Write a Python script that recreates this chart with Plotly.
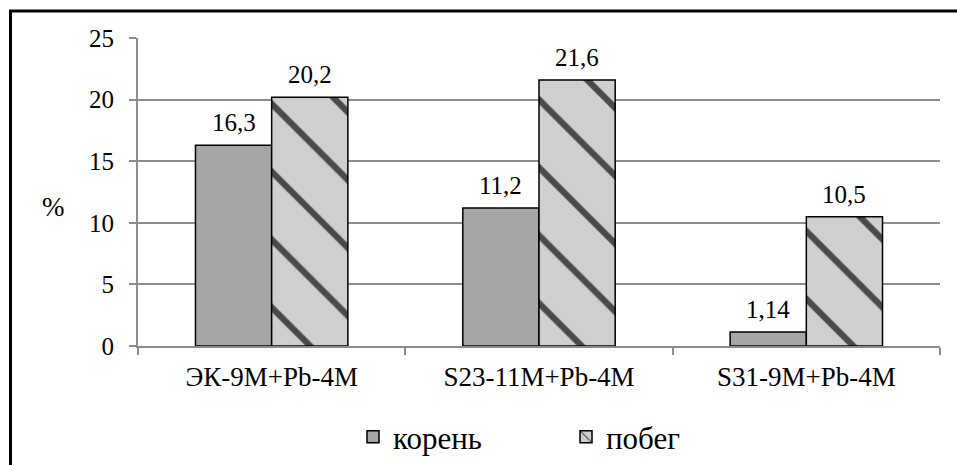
import plotly.graph_objects as go

categories = ["ЭК-9M+Pb-4M", "S23-11M+Pb-4M", "S31-9M+Pb-4M"]
koren = [16.3, 11.2, 1.14]
pobeg = [20.2, 21.6, 10.5]
koren_labels = ["16,3", "11,2", "1,14"]
pobeg_labels = ["20,2", "21,6", "10,5"]
y_ticks = [0, 5, 10, 15, 20, 25]

FONT = "Liberation Serif"
W, H = 957, 465
ML, MR, MT, MB = 138, 17, 37.5, 119
PW = W - ML - MR
PH = H - MT - MB
BARGAP = 0.43
BAR_W = (1 - BARGAP) / 2  # width of one bar in category units

fig = go.Figure()
fig.add_trace(go.Bar(
    name="корень", x=categories, y=koren,
    marker=dict(color="#a6a6a6", line=dict(color="black", width=1.5)),
))
fig.add_trace(go.Bar(
    name="побег", x=categories, y=pobeg,
    marker=dict(color="#cccccc", line=dict(color="black", width=1.5),
                pattern=dict(shape="\\", fgcolor="#4a4a4a", bgcolor="#cfcfcf",
                             size=48, solidity=0.13, fillmode="replace")),
))

# data labels above bars (placed at bar centres via the category axis)
for i, (v, lab) in enumerate(zip(koren, koren_labels)):
    fig.add_annotation(x=i - BAR_W / 2, y=v, text=lab, showarrow=False,
                       yanchor="bottom", xanchor="center", yshift=7,
                       font=dict(family=FONT, size=25, color="black"))
for i, (v, lab) in enumerate(zip(pobeg, pobeg_labels)):
    fig.add_annotation(x=i + BAR_W / 2, y=v, text=lab, showarrow=False,
                       yanchor="bottom", xanchor="center", yshift=7,
                       font=dict(family=FONT, size=25, color="black"))

def px_to_paper_x(px):
    return (px - ML) / PW

def px_to_paper_y(py):
    return (H - MB - py) / PH

fig.add_shape(type="rect", xref="paper", yref="paper",
              x0=px_to_paper_x(10.5), x1=px_to_paper_x(975),
              y0=px_to_paper_y(490), y1=px_to_paper_y(10.5),
              line=dict(color="black", width=3), fillcolor="rgba(0,0,0,0)")

fig.add_annotation(text="%", xref="paper", yref="paper",
                   x=px_to_paper_x(53), y=px_to_paper_y(207),
                   xanchor="center", yanchor="middle",
                   showarrow=False, font=dict(family=FONT, size=27, color="black"))

fig.update_layout(
    template="none",
    width=W, height=H,
    margin=dict(l=ML, r=MR, t=MT, b=MB, autoexpand=False),
    paper_bgcolor="white", plot_bgcolor="white",
    barmode="group", bargap=BARGAP, bargroupgap=0,
    showlegend=True,
    legend=dict(orientation="h", xref="container", yref="container",
                x=566 / W, xanchor="center",
                y=1 - 437 / H, yanchor="middle",
                font=dict(family=FONT, size=31, color="black"),
                entrywidth=168, entrywidthmode="pixels",
                bgcolor="rgba(0,0,0,0)"),
)
fig.update_yaxes(range=[0, 25], tickvals=y_ticks, showgrid=True,
                 gridcolor="#8c8c8c", gridwidth=1.5,
                 showline=True, linecolor="#8c8c8c", linewidth=2,
                 ticks="outside", ticklen=7, tickcolor="#8c8c8c", tickwidth=2,
                 ticklabelstandoff=10, zeroline=False,
                 tickfont=dict(family=FONT, size=25, color="black"))
fig.update_xaxes(showline=True, linecolor="#8c8c8c", linewidth=2,
                 ticks="outside", tickson="boundaries", ticklen=7,
                 tickcolor="#8c8c8c", tickwidth=2, ticklabelstandoff=6,
                 showgrid=False,
                 tickfont=dict(family=FONT, size=27, color="black"))

fig.write_html("out.html")
